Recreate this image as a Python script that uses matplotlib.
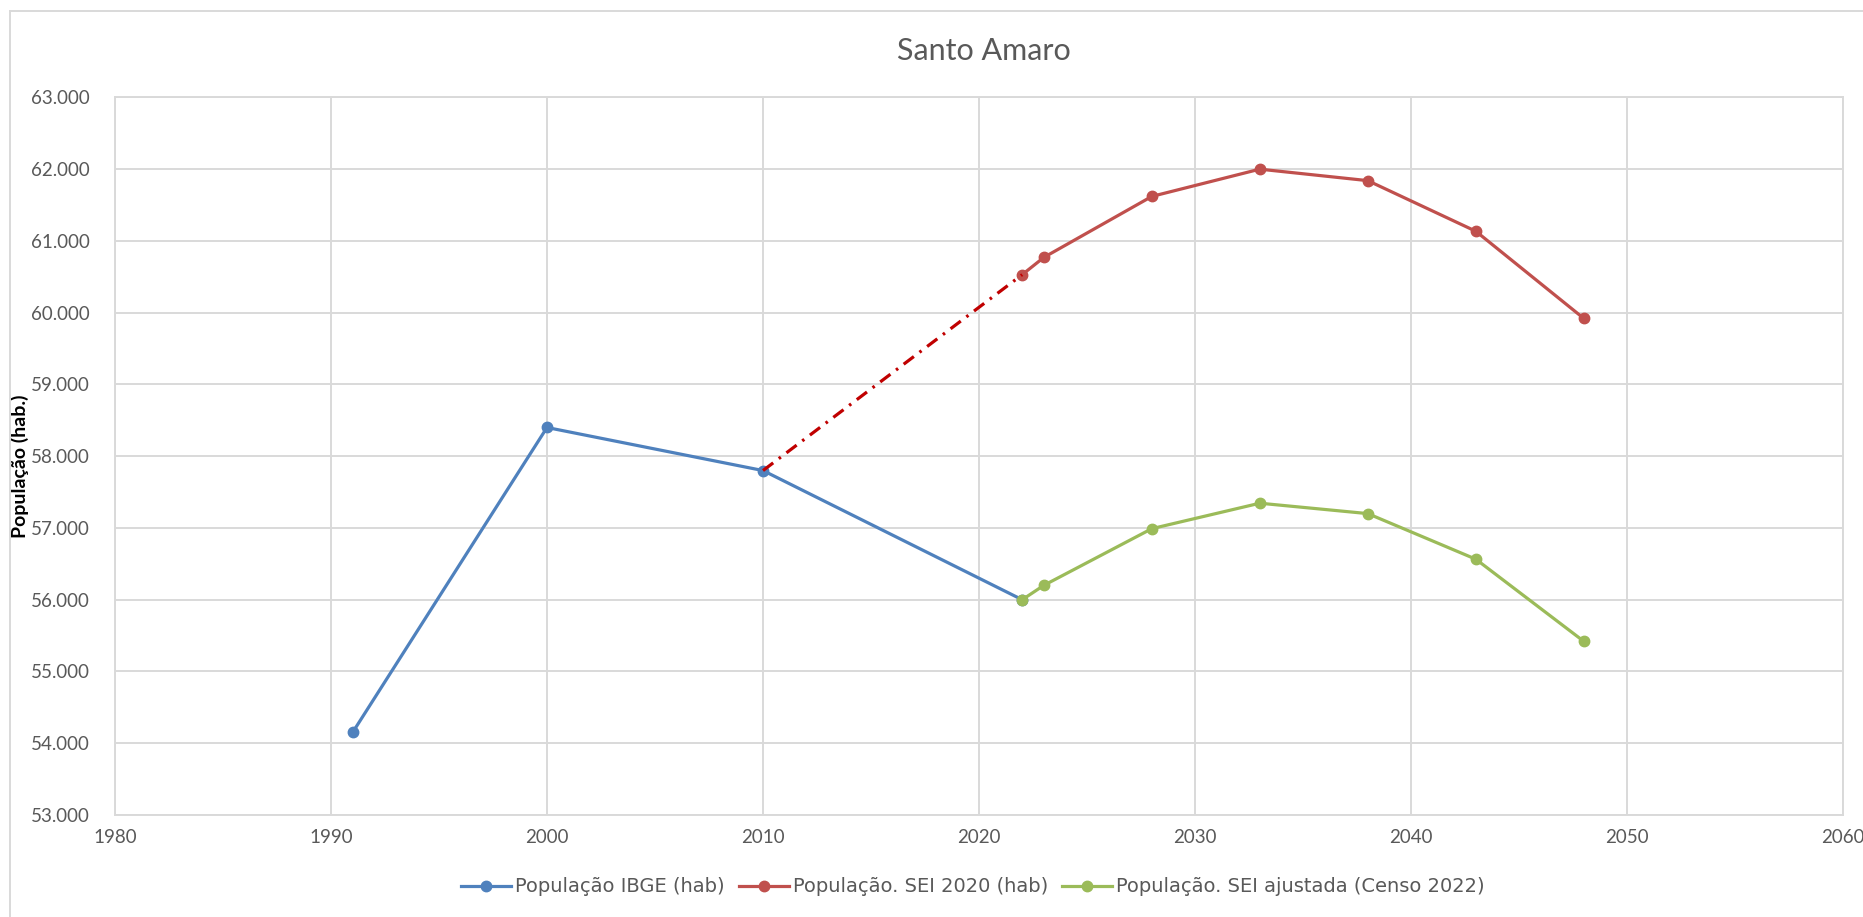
import matplotlib
matplotlib.use("Agg")
import matplotlib.pyplot as plt
from matplotlib.ticker import FuncFormatter, FixedLocator
from matplotlib.lines import Line2D

# ---- data ----
years_ibge = [1991, 2000, 2010, 2022]
pop_ibge = [54150, 58400, 57800, 56000]

years_sei = [2022, 2023, 2028, 2033, 2038, 2043, 2048]
pop_sei2020 = [60530, 60770, 61620, 62000, 61840, 61135, 59920]
pop_sei_ajust = [56000, 56200, 56990, 57345, 57200, 56565, 55420]

x_ticks = [1980, 1990, 2000, 2010, 2020, 2030, 2040, 2050, 2060]
y_ticks = [53000, 54000, 55000, 56000, 57000, 58000, 59000, 60000, 61000, 62000, 63000]

title = "Santo Amaro"
y_label = "População (hab.)"
lbl_ibge = "População IBGE (hab)"
lbl_sei = "População. SEI 2020 (hab)"
lbl_ajust = "População. SEI ajustada (Censo 2022)"

# ---- style ----
plt.rcParams['font.family'] = ['Lato', 'DejaVu Sans']
BLUE = "#4F81BD"
RED = "#C0504D"
GREEN = "#9BBB59"
DARKRED = "#C00000"
GRID = "#D9D9D9"
TXT = "#595959"

W, H = 1863, 917
fig = plt.figure(figsize=(W / 100, H / 100), dpi=100)
ax = fig.add_axes([115 / W, 1 - 815 / H, (1843 - 115) / W, (815 - 97.4) / H])

lw = 2.3
ms = 7.5
ax.plot(years_ibge, pop_ibge, color=BLUE, lw=lw, marker='o', ms=ms, label=lbl_ibge, zorder=3)
ax.plot([years_ibge[2], years_sei[0]], [pop_ibge[2], pop_sei2020[0]], color=DARKRED, lw=2.3,
        linestyle=(0, (4, 2.2, 0.8, 2.2)), zorder=4, solid_capstyle='butt', dash_capstyle='butt')
ax.plot(years_sei, pop_sei2020, color=RED, lw=lw, marker='o', ms=ms, label=lbl_sei, zorder=3)
ax.plot(years_sei, pop_sei_ajust, color=GREEN, lw=lw, marker='o', ms=ms, label=lbl_ajust, zorder=3)

ax.set_xlim(x_ticks[0], x_ticks[-1])
ax.set_ylim(y_ticks[0], y_ticks[-1])
ax.xaxis.set_major_locator(FixedLocator(x_ticks))
ax.yaxis.set_major_locator(FixedLocator(y_ticks))
ax.yaxis.set_major_formatter(FuncFormatter(lambda v, p: f"{v:,.0f}".replace(",", ".")))

ax.grid(True, color=GRID, lw=1.4, zorder=0)
ax.set_axisbelow(True)
for s in ax.spines.values():
    s.set_color(GRID)
    s.set_linewidth(1.4)

ax.tick_params(axis='both', length=0, labelsize=13.5, labelcolor=TXT)
ax.tick_params(axis='y', pad=18)
ax.tick_params(axis='x', pad=10)

ax.set_ylabel(y_label, fontsize=14, fontweight='bold', color='black')
ax.yaxis.set_label_coords(-0.0495, 0.486)

fig.text(984 / W, 1 - 51 / H, title, fontsize=22, color=TXT, ha='center', va='center')

leg = fig.legend(loc='center', bbox_to_anchor=(973 / W, 1 - 887 / H), ncol=3, frameon=False,
                 prop={'family': 'DejaVu Sans', 'size': 14}, handlelength=2.55,
                 handletextpad=0.2, columnspacing=0.75, labelcolor=TXT)

# outer chart border (left and top visible)
fig.add_artist(Line2D([10 / W, 10 / W], [0, 1 - 11 / H], color=GRID, lw=1.4, transform=fig.transFigure))
fig.add_artist(Line2D([10 / W, 1], [1 - 11 / H, 1 - 11 / H], color=GRID, lw=1.4, transform=fig.transFigure))

fig.savefig("out.png", dpi=100, facecolor='white')
